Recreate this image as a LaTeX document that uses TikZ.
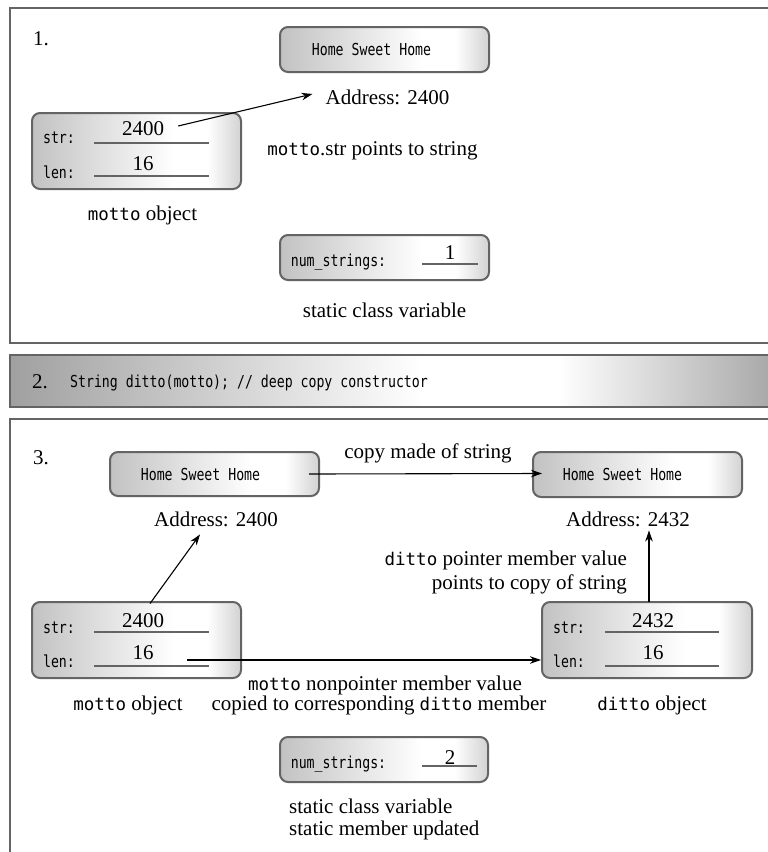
\documentclass[tikz,border=0pt]{standalone}
\usepackage{fontspec}
\setmainfont{Liberation Serif}
\newfontfamily\codefont[FakeStretch=0.8]{DejaVu Sans Mono}
\newfontfamily\labmono{DejaVu Sans Mono}
\usetikzlibrary{arrows.meta}
\definecolor{framegray}{HTML}{646464}
\definecolor{boxleft}{HTML}{C2C2C2}
\definecolor{boxright}{HTML}{D2D2D2}
\definecolor{banleft}{HTML}{A0A0A0}
\definecolor{banright}{HTML}{A8A8A8}
\pgfdeclarehorizontalshading{boxshade}{100bp}{color(0bp)=(boxleft); color(25bp)=(boxleft); color(59bp)=(white); color(67bp)=(white); color(75bp)=(boxright); color(100bp)=(boxright)}
\pgfdeclarehorizontalshading{banshade}{100bp}{color(0bp)=(banleft); color(25bp)=(banleft); color(52bp)=(white); color(61bp)=(white); color(75bp)=(banright); color(100bp)=(banright)}
\newcommand{\monoword}[1]{{\labmono\fontsize{17.5}{20}\selectfont #1}}
\tikzset{
  panel/.style={draw=framegray, line width=2pt},
  membox/.style={draw=framegray, line width=2pt, rounded corners=8pt, shade, shading=boxshade, inner sep=0pt},
  serif/.style={font=\fontsize{21}{24}\selectfont, inner sep=0pt, text height=14.5pt, text depth=0pt},
  code/.style={font=\codefont\fontsize{16.5}{18}\selectfont, inner sep=0pt, text height=12pt, text depth=0pt},
  uline/.style={draw=framegray, line width=2pt},
  arr/.style={-{Stealth[length=11pt,width=7.5pt]}, line width=1.1pt, black},
}
\begin{document}
\begin{tikzpicture}[x=1pt,y=-1pt]
\useasboundingbox (0,0) rectangle (768,852);
\clip (0,0) rectangle (768,852);
\fill[white] (0,0) rectangle (768,852);

% ---------- Panel 1 ----------
\draw[panel] (10,8) rectangle (800,343);
\node[serif] (n1) at (41,38) {1.};
\node[membox, minimum width=209pt, minimum height=45pt] (hsh1) at (384.5,49.5) {};
\node[code] (hsh1t) at ([xshift=-13pt]hsh1.center) {Home Sweet Home};
\node[serif] (addr1) at (387.5,97) {Address: 2400};
\node[membox, minimum width=209pt, minimum height=76pt] (motto1) at (136.5,151) {};
\node[code] (m1s) at (59,137) {str:};
\node[code] (m1l) at (59,172) {len:};
\draw[uline] (94,143) -- (209,143);
\draw[uline] (94,176) -- (209,176);
\node[serif] (m1sv) at (143,128) {2400};
\node[serif] (m1lv) at (143,163) {16};
\draw[arr] ([xshift=14pt,yshift=2pt]m1sv.east) -- ([xshift=-13pt,yshift=3pt]addr1.west);
\node[serif] (ptr1) at (372.5,148) {\monoword{motto}.str points to string};
\node[serif] (mo1) at (142.5,213) {\monoword{motto} object};
\node[membox, minimum width=209pt, minimum height=45pt] (ns1) at (384.5,257.5) {};
\node[code] (ns1l) at (338.5,260) {num\_strings:};
\node[serif] (ns1v) at (450,252) {1};
\draw[uline] (422,264) -- (478,264);
\node[serif] (sc1) at (384.5,310) {static class variable};

% ---------- Banner ----------
\path[draw=framegray, line width=1.6pt, shade, shading=banshade] (10,355) rectangle (772,407);
\node[serif] (n2) at (40,381) {2.};
\node[code, anchor=west] (ban) at (70,381) {String ditto(motto); // deep copy constructor};

% ---------- Panel 3 ----------
\draw[panel] (10,419) rectangle (800,900);
\node[serif] (n3) at (41,457) {3.};
\node[membox, minimum width=209pt, minimum height=44pt] (hsh2) at (214.5,474) {};
\node[code] (hsh2t) at ([xshift=-14pt]hsh2.center) {Home Sweet Home};
\node[membox, minimum width=209pt, minimum height=45pt] (hsh3) at (637.5,474.5) {};
\node[code] (hsh3t) at ([xshift=-15pt]hsh3.center) {Home Sweet Home};
\draw[arr] ([xshift=-11pt]hsh2.east) -- ([xshift=10pt,yshift=1pt]hsh3.west);
\node[serif] (cp) at (428,451) {copy made of string};
\node[serif] (addr2) at (216,519) {Address: 2400};
\node[serif] (addr3) at (628,519) {Address: 2432};
\node[serif, anchor=east] (dp1) at (627,558) {\monoword{ditto} pointer member value};
\node[serif, anchor=east] (dp2) at (627,582) {points to copy of string};

\node[membox, minimum width=209pt, minimum height=76pt] (motto3) at (136.5,640) {};
\node[code] (m3s) at (59,627) {str:};
\node[code] (m3l) at (59,661) {len:};
\draw[uline] (94,632) -- (209,632);
\draw[uline] (94,666) -- (209,666);
\node[serif] (m3sv) at (143,620) {2400};
\node[serif] (m3lv) at (143,652) {16};

\node[membox, minimum width=210pt, minimum height=76pt] (dit) at (647,640) {};
\node[code] (d3s) at (569,627) {str:};
\node[code] (d3l) at (569,661) {len:};
\draw[uline] (605,632) -- (719,632);
\draw[uline] (605,666) -- (719,666);
\node[serif] (d3sv) at (653,620) {2432};
\node[serif] (d3lv) at (653,652) {16};

\draw[arr] ([xshift=7pt,yshift=9pt]m3sv.north) -- ([xshift=-16pt,yshift=-8pt]addr2.south);
\draw[arr] ([xshift=-4pt,yshift=11pt]d3sv.north) -- ([xshift=21pt,yshift=-4pt]addr3.south);
\draw[arr] ([xshift=33.5pt,yshift=-8pt]m3lv.east) -- ([yshift=-20pt]dit.west);

\node[serif] (np1) at (385,683) {\monoword{motto} nonpointer member value};
\node[serif] (np2) at (379,703) {copied to corresponding \monoword{ditto} member};
\node[serif] (mo3) at (128,703) {\monoword{motto} object};
\node[serif] (do3) at (652,703) {\monoword{ditto} object};

\node[membox, minimum width=208pt, minimum height=45pt] (ns2) at (384,759.5) {};
\node[code] (ns2l) at (338.5,762) {num\_strings:};
\node[serif] (ns2v) at (450,757) {2};
\draw[uline] (422,766) -- (477,766);
\node[serif, anchor=west] (sc2) at (289,806) {static class variable};
\node[serif, anchor=west] (sc3) at (289,828) {static member updated};
\end{tikzpicture}
\end{document}
